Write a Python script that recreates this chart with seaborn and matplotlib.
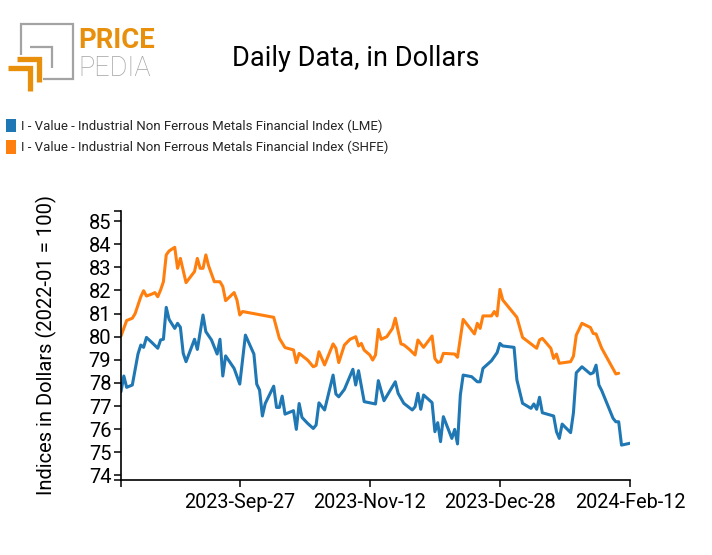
import matplotlib
matplotlib.use("Agg")
import matplotlib.pyplot as plt
import matplotlib.dates as mdates
from matplotlib.patches import Patch
from matplotlib.lines import Line2D
import seaborn as sns
import pandas as pd

# ---------------- data ----------------
lme_dates = [
    "2023-08-16", "2023-08-17", "2023-08-18", "2023-08-20", "2023-08-22", "2023-08-23",
    "2023-08-24", "2023-08-25", "2023-08-27", "2023-08-29", "2023-08-30", "2023-08-31",
    "2023-09-01", "2023-09-02", "2023-09-04", "2023-09-05", "2023-09-06", "2023-09-07",
    "2023-09-08", "2023-09-11", "2023-09-12", "2023-09-14", "2023-09-15", "2023-09-17",
    "2023-09-19", "2023-09-20", "2023-09-21", "2023-09-22", "2023-09-25", "2023-09-27",
    "2023-09-29",
    "2023-10-02", "2023-10-03", "2023-10-04", "2023-10-05", "2023-10-06", "2023-10-09",
    "2023-10-10", "2023-10-11", "2023-10-12", "2023-10-13", "2023-10-16", "2023-10-17",
    "2023-10-18", "2023-10-19", "2023-10-21", "2023-10-23", "2023-10-24", "2023-10-25",
    "2023-10-27", "2023-10-30", "2023-10-31",
    "2023-11-01", "2023-11-03", "2023-11-06", "2023-11-07", "2023-11-08", "2023-11-10",
    "2023-11-14", "2023-11-15", "2023-11-17", "2023-11-21", "2023-11-22", "2023-11-24",
    "2023-11-27", "2023-11-28", "2023-11-29", "2023-11-30",
    "2023-12-01", "2023-12-04", "2023-12-05", "2023-12-06", "2023-12-07", "2023-12-08",
    "2023-12-11", "2023-12-12", "2023-12-13", "2023-12-14", "2023-12-15", "2023-12-18",
    "2023-12-20", "2023-12-21", "2023-12-22", "2023-12-25", "2023-12-27", "2023-12-28",
    "2023-12-29",
    "2024-01-02", "2024-01-03", "2024-01-05", "2024-01-08", "2024-01-09", "2024-01-10",
    "2024-01-11", "2024-01-12", "2024-01-16", "2024-01-17", "2024-01-18", "2024-01-19",
    "2024-01-22", "2024-01-23", "2024-01-24", "2024-01-26", "2024-01-29", "2024-01-30",
    "2024-01-31",
    "2024-02-01", "2024-02-02", "2024-02-06", "2024-02-07", "2024-02-08", "2024-02-09",
    "2024-02-12",
]
lme_values = [
    77.62, 78.30, 77.81, 77.91, 79.25, 79.64, 79.54, 79.97, 79.74, 79.50, 79.86, 79.89,
    81.27, 80.75, 80.36, 80.58, 80.41, 79.28, 78.92, 79.89, 79.45, 80.94, 80.22, 79.86,
    79.25, 79.89, 78.30, 79.17, 78.63, 77.95, 80.07,
    79.25, 77.95, 77.69, 76.57, 77.11, 77.86, 76.94, 76.94, 77.43, 76.65, 76.80, 75.99,
    77.11, 76.51, 76.25, 76.03, 76.18, 77.14, 76.83, 78.34, 77.52,
    77.40, 77.72, 78.59, 77.91, 78.53, 77.19, 77.09, 78.10, 77.23, 78.05, 77.55, 77.12,
    76.83, 76.97, 77.55, 76.86,
    77.48, 77.15, 75.89, 76.28, 75.46, 76.54, 75.60, 75.99, 75.36, 77.48, 78.34, 78.27,
    78.05, 78.05, 78.63, 78.96, 79.31, 79.71, 79.60,
    79.54, 78.13, 77.12, 76.90, 77.09, 76.86, 77.38, 76.71, 76.57, 75.89, 75.60, 76.22,
    75.85, 76.71, 78.44, 78.70, 78.39, 78.44, 78.77,
    77.91, 77.67, 76.47, 76.32, 76.32, 75.31, 75.39,
]

shfe_dates = [
    "2023-08-16", "2023-08-18", "2023-08-20", "2023-08-21", "2023-08-23", "2023-08-24",
    "2023-08-25", "2023-08-27", "2023-08-28", "2023-08-29", "2023-08-30", "2023-08-31",
    "2023-09-01", "2023-09-02", "2023-09-04", "2023-09-05", "2023-09-06", "2023-09-08",
    "2023-09-11", "2023-09-12", "2023-09-13", "2023-09-14", "2023-09-15", "2023-09-16",
    "2023-09-18", "2023-09-20", "2023-09-21", "2023-09-22", "2023-09-25", "2023-09-26",
    "2023-09-27", "2023-09-28",
    "2023-10-09", "2023-10-11", "2023-10-13", "2023-10-16", "2023-10-17", "2023-10-18",
    "2023-10-21", "2023-10-23", "2023-10-24", "2023-10-25", "2023-10-27", "2023-10-30",
    "2023-10-31",
    "2023-11-01", "2023-11-03", "2023-11-05", "2023-11-07", "2023-11-08", "2023-11-09",
    "2023-11-10", "2023-11-12", "2023-11-13", "2023-11-14", "2023-11-15", "2023-11-16",
    "2023-11-18", "2023-11-20", "2023-11-21", "2023-11-23", "2023-11-24", "2023-11-26",
    "2023-11-28", "2023-11-29",
    "2023-12-01", "2023-12-04", "2023-12-05", "2023-12-06", "2023-12-07", "2023-12-08",
    "2023-12-12", "2023-12-13", "2023-12-15", "2023-12-19", "2023-12-20", "2023-12-21",
    "2023-12-22", "2023-12-25", "2023-12-26", "2023-12-27", "2023-12-28", "2023-12-29",
    "2024-01-03", "2024-01-05", "2024-01-10", "2024-01-11", "2024-01-12", "2024-01-15",
    "2024-01-16", "2024-01-17", "2024-01-18", "2024-01-22", "2024-01-23", "2024-01-24",
    "2024-01-26", "2024-01-29", "2024-01-30", "2024-01-31",
    "2024-02-02", "2024-02-07", "2024-02-08",
]
shfe_values = [
    80.03, 80.70, 80.80, 81.00, 81.73, 81.99, 81.76, 81.85, 81.91, 81.73, 82.02, 82.38,
    83.54, 83.71, 83.87, 82.96, 83.39, 82.34, 82.82, 83.39, 82.96, 82.96, 83.54, 83.06,
    82.38, 82.38, 82.17, 81.56, 81.91, 81.59, 80.94, 81.09,
    80.84, 79.93, 79.53, 79.43, 78.88, 79.28, 78.99, 78.70, 78.76, 79.35, 78.78, 79.69,
    79.50,
    78.88, 79.64, 79.89, 80.00, 79.60, 79.71, 79.42, 79.21, 78.99, 79.21, 80.32, 79.89,
    80.00, 80.36, 80.80, 79.69, 79.65, 79.45, 79.21, 79.86,
    79.54, 80.03, 79.06, 78.89, 78.92, 79.28, 79.25, 79.11, 80.75, 80.12, 80.58, 80.36,
    80.90, 80.90, 81.09, 80.90, 82.05, 81.59,
    80.84, 79.97, 79.50, 79.86, 79.93, 79.50, 79.06, 79.25, 78.85, 78.92, 79.16, 80.07,
    80.58, 80.40, 80.14, 80.12,
    79.50, 78.39, 78.42,
]

series_labels = [
    "I - Value - Industrial Non Ferrous Metals Financial Index (LME)",
    "I - Value - Industrial Non Ferrous Metals Financial Index (SHFE)",
]
series_colors = ["#1f77b4", "#ff7f0e"]
y_ticks = [74, 75, 76, 77, 78, 79, 80, 81, 82, 83, 84, 85]
x_tick_dates = ["2023-09-27", "2023-11-12", "2023-12-28", "2024-02-12"]
x_domain = ["2023-08-16", "2024-02-12"]
title_text = "Daily Data, in Dollars"
y_label = "Indices in Dollars (2022-01 = 100)"

# ---------------- style ----------------
sns.set_theme(style="ticks")
plt.rcParams["font.family"] = ["Roboto", "DejaVu Sans"]

W, H = 712, 555
fig = plt.figure(figsize=(W / 100, H / 100), dpi=100)

# logo overlay (pixel coordinates)
lax = fig.add_axes([0, 0, 1, 1], zorder=0)
lax.set_xlim(0, W)
lax.set_ylim(H, 0)
lax.axis("off")
gray = "#a3a3a3"
orange = "#e8900c"
lax.add_line(Line2D([20.7, 20.7, 72.7, 72.7, 43], [55, 24.3, 24.3, 79, 79],
                    color=gray, lw=1.6, solid_joinstyle="miter", solid_capstyle="butt"))
lax.add_line(Line2D([30, 51.7, 51.7], [46.7, 46.7, 68.3],
                    color=gray, lw=1.6, solid_joinstyle="miter", solid_capstyle="butt"))
lax.add_line(Line2D([17.3, 38.8, 38.8], [59.2, 59.2, 81.7],
                    color=orange, lw=3.8, solid_joinstyle="miter", solid_capstyle="butt"))
lax.add_line(Line2D([8.3, 29.7, 29.7], [68.3, 68.3, 91],
                    color=orange, lw=3.8, solid_joinstyle="miter", solid_capstyle="butt"))
lax.text(78, 48.5, "PRICE", color=orange, fontsize=19.8, fontweight="bold",
         ha="left", va="baseline")
lax.text(78, 75.5, "PEDIA", color=gray, fontsize=19.5, fontweight="light",
         ha="left", va="baseline")

# main axes
left, right, top, bottom = 121, 630, 211, 480
ax = fig.add_axes([left / W, 1 - bottom / H, (right - left) / W, (bottom - top) / H])

df_lme = pd.DataFrame({"date": pd.to_datetime(lme_dates), "value": lme_values})
df_shfe = pd.DataFrame({"date": pd.to_datetime(shfe_dates), "value": shfe_values})
sns.lineplot(data=df_lme, x="date", y="value", ax=ax, color=series_colors[0], lw=2.2)
sns.lineplot(data=df_shfe, x="date", y="value", ax=ax, color=series_colors[1], lw=2.2)

y0, y1 = 73.80, 85.44
ax.set_ylim(y0, y1)
xd = pd.to_datetime(x_domain)
ax.set_xlim(xd[0], xd[1])
ax.set_yticks(y_ticks)
ax.set_yticks([y0, y1], minor=True)
ax.set_xticks(pd.to_datetime(x_tick_dates))
ax.set_xticks([xd[0]], minor=True)
ax.xaxis.set_major_formatter(mdates.DateFormatter("%Y-%b-%d"))
ax.set_xlabel("")
ax.set_ylabel("")
for s in ["top", "right"]:
    ax.spines[s].set_visible(False)
for s in ["left", "bottom"]:
    ax.spines[s].set_color("black")
    ax.spines[s].set_linewidth(1.2)
ax.tick_params(axis="both", which="both", length=5, width=1.1, color="black",
               direction="out")
ax.tick_params(axis="y", which="major", labelsize=14.5, pad=2, labelcolor="black")
ax.tick_params(axis="x", which="major", labelsize=14.3, pad=4, labelcolor="black")
ax.grid(False)

fig.text(46 / W, 1 - 345 / H, y_label, rotation=90, ha="center", va="center",
         fontsize=14.5, color="black")
fig.text(356 / W, 1 - 58 / H, title_text, ha="center", va="center",
         fontsize=19.5, color="black")

handles = [Patch(facecolor=c, edgecolor="none") for c in series_colors]
fig.legend(handles, series_labels, loc="upper left",
           bbox_to_anchor=(3 / W, 1 - 116 / H), frameon=False, fontsize=9.5,
           handlelength=0.8, handleheight=1.2, handletextpad=0.4,
           labelspacing=0.55, borderaxespad=0, borderpad=0.2)

fig.savefig("out.png", dpi=100)
